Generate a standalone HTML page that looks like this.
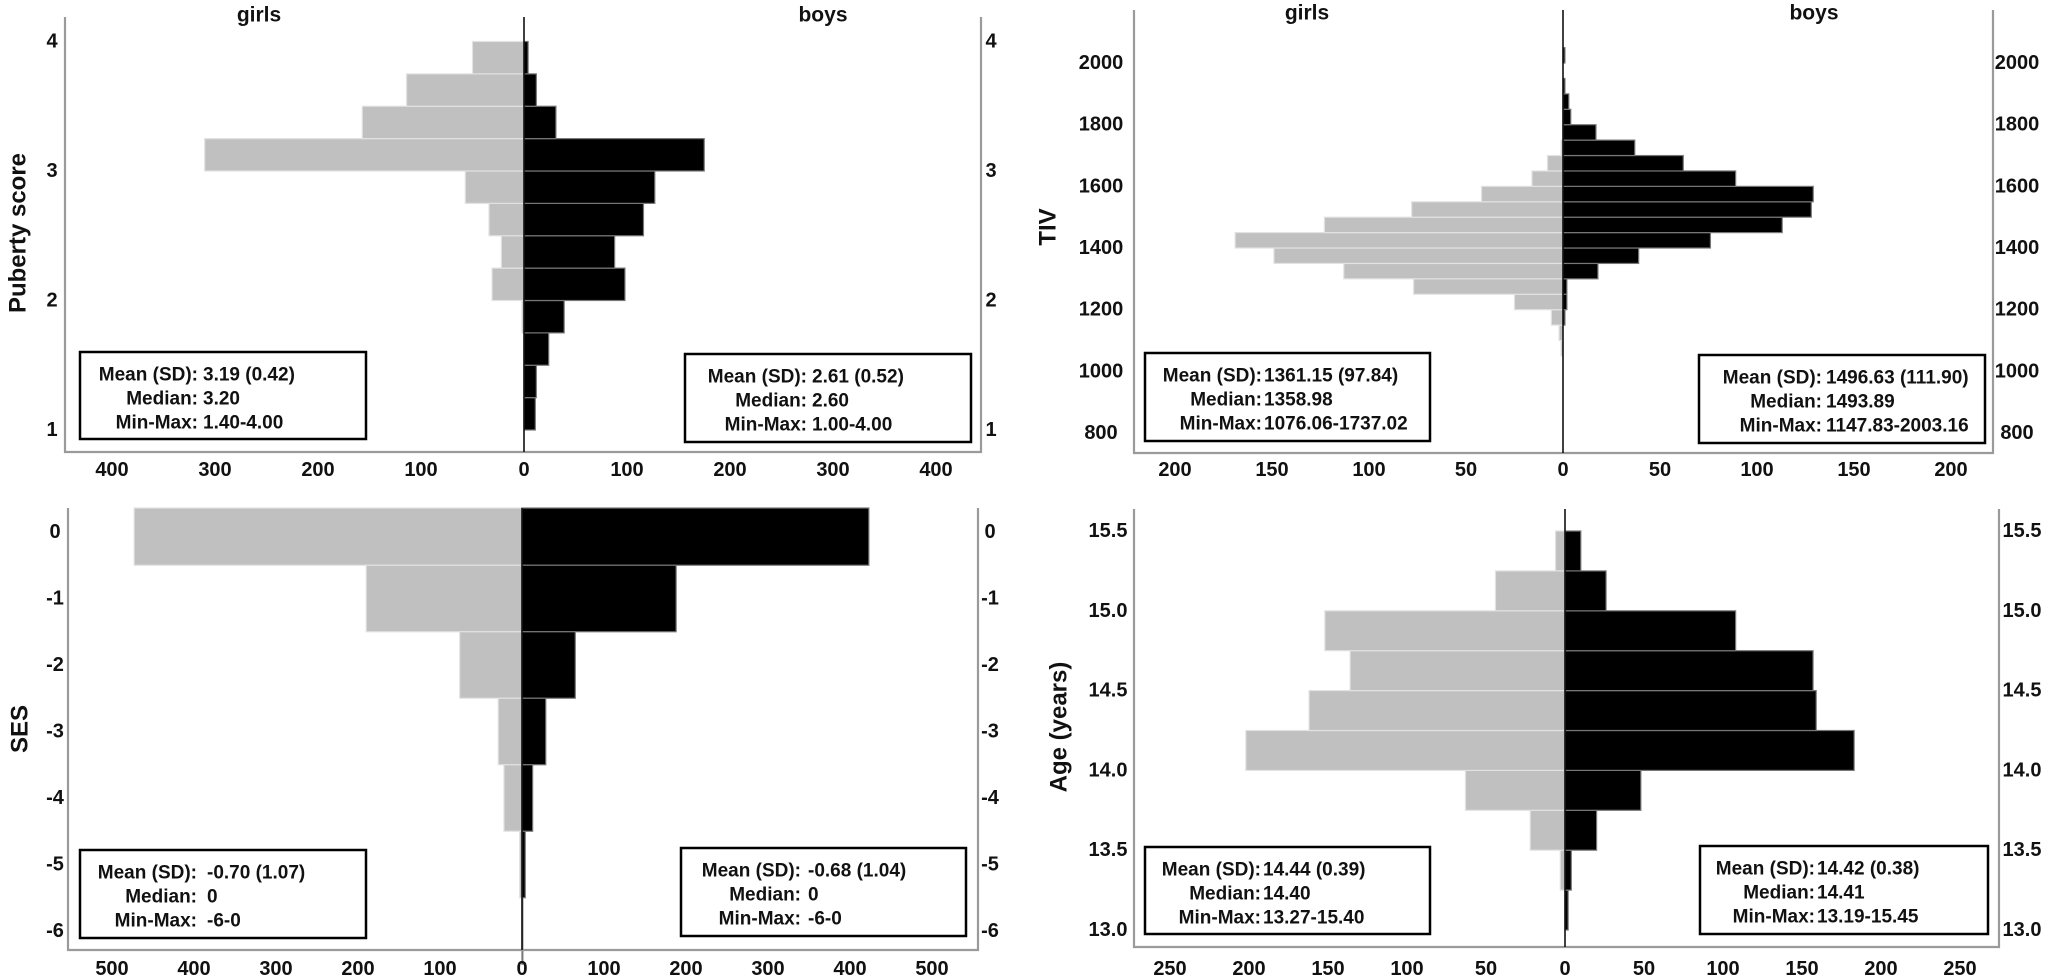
<!DOCTYPE html>
<html><head><meta charset="utf-8"><style>
html,body{margin:0;padding:0;background:#fff;}
svg{display:block;font-family:"Liberation Sans",Arial,sans-serif;font-weight:bold;}
</style></head><body>
<svg id="fig" width="2050" height="979" viewBox="0 0 2050 979" xmlns="http://www.w3.org/2000/svg"></svg>
<script>
// ---- Panel 1: Puberty score (bins of 0.25 from 1.0) ----
const pubBins = [1.0,1.25,1.5,1.75,2.0,2.25,2.5,2.75,3.0,3.25,3.5,3.75];
const pubGirls = [0,0,0,2,31,22,34,57,310,157,114,50];
const pubBoys = [11,12,24,39,98,88,116,127,175,31,12,4];
const pubYTicks = [1,2,3,4];
const pubXTicks = [400,300,200,100,0,100,200,300,400];
// ---- Panel 2: TIV (bins of 50) ----
const tivBins = [1050,1100,1150,1200,1250,1300,1350,1400,1450,1500,1550,1600,1650,1700,1750,1800,1850,1900,1950,2000];
const tivGirls = [1,2,6,25,77,113,149,169,123,78,42,16,8,1,0,0,0,0,0,0];
const tivBoys = [0,0,1,2,2,18,39,76,113,128,129,89,62,37,17,4,3,1,0,1];
const tivYTicks = [800,1000,1200,1400,1600,1800,2000];
const tivXTicks = [200,150,100,50,0,50,100,150,200];
// ---- Panel 3: SES (integer categories) ----
const sesCats = [0,-1,-2,-3,-4,-5,-6];
const sesGirls = [473,190,76,29,22,3,0];
const sesBoys = [423,188,65,29,13,4,1];
const sesYTicks = [0,-1,-2,-3,-4,-5,-6];
const sesXTicks = [500,400,300,200,100,0,100,200,300,400,500];
// ---- Panel 4: Age (bins of 0.25) ----
const ageBins = [13.0,13.25,13.5,13.75,14.0,14.25,14.5,14.75,15.0,15.25];
const ageGirls = [0,3,22,63,202,162,136,152,44,6];
const ageBoys = [2,4,20,48,183,159,157,108,26,10];
const ageYTicks = [13.0,13.5,14.0,14.5,15.0,15.5];
const ageXTicks = [250,200,150,100,50,0,50,100,150,200,250];

const NS = "http://www.w3.org/2000/svg";
const svg = document.getElementById('fig');
function mk(tag, attrs, parent){
  const e = document.createElementNS(NS, tag);
  for (const k in attrs) e.setAttribute(k, attrs[k]);
  (parent||svg).appendChild(e);
  return e;
}
function txt(s, x, y, size, anchor, parent){
  const t = mk('text', {x:x, y:y, 'font-size':size, 'text-anchor':anchor||'middle', 'dominant-baseline':'central', fill:'#111'}, parent);
  t.textContent = s;
  return t;
}

function panel(cfg){
  const g = mk('g', {});
  
  
  const xs = v => cfg.cx + v * cfg.xs;      // boys direction
  const xg = v => cfg.cx - v * cfg.xs;      // girls direction
  // bars
  for (let i = 0; i < cfg.bins.length; i++){
    let y0 = cfg.y(cfg.bins[i] + cfg.bw), y1 = cfg.y(cfg.bins[i]);
    if (cfg.centered){ y0 = cfg.y(cfg.bins[i] + cfg.bw/2); y1 = cfg.y(cfg.bins[i] - cfg.bw/2); }
    let top = Math.max(Math.min(y0,y1), cfg.top), bot = Math.max(y0,y1);
    const h = bot - top;
    if (cfg.girls[i] > 0){
      const r = mk('rect', {x:xg(cfg.girls[i]), y:top, width:cfg.girls[i]*cfg.xs, height:h, fill:'#c0c0c0', stroke:'#e2e2e2', 'stroke-width':1.2}, g);
      
      
    }
    if (cfg.boys[i] > 0){
      const r = mk('rect', {x:cfg.cx, y:top, width:cfg.boys[i]*cfg.xs, height:h, fill:'#000', stroke:'#777', 'stroke-width':1.2}, g);
      
      
    }
  }
  // frame
  const fr = mk('path', {d:`M${cfg.left} ${cfg.top} V${cfg.bottom} H${cfg.right} V${cfg.top}`, fill:'none', stroke:'#9a9a9a', 'stroke-width':2.2}, g);
  
  
  const cl = mk('line', {x1:cfg.cx, x2:cfg.cx, y1:cfg.top, y2:cfg.bottom, stroke:'#111', 'stroke-width':1.6}, g);
  
  
  // y ticks
  for (const v of cfg.yticks){
    const s = cfg.fmt(v);
    const a = txt(s, cfg.ylx, cfg.y(v), 20, 'middle', g);
    
    
    const b = txt(s, cfg.yrx, cfg.y(v), 20, 'middle', g);
    
    
  }
  // x ticks
  const n = cfg.xticks.length, mid = (n-1)/2;
  cfg.xticks.forEach((v,i) => {
    const x = i < mid ? xg(v) : xs(v);
    const t = txt(String(v), x, cfg.xly, 20, 'middle', g);
    
    
  });
  // y title
  const tt = mk('text', {x:0, y:0, 'font-size':24, 'text-anchor':'middle', 'dominant-baseline':'central', fill:'#111', transform:`translate(${cfg.tx},${cfg.ty}) rotate(-90)`}, g);
  tt.textContent = cfg.title;
  
  
  // headers
  if (cfg.heads){
    const h1 = txt('girls', cfg.heads[0], cfg.heads[2], 21, 'middle', g);
    
    
    const h2 = txt('boys', cfg.heads[1], cfg.heads[2], 21, 'middle', g);
    
    
  }
  // stat boxes
  cfg.boxes.forEach(bx => {
    const bg = mk('g', {}, g);
    
    
    mk('rect', {x:bx.x, y:bx.y, width:bx.w, height:bx.h, fill:'#fff', stroke:'#000', 'stroke-width':2.5}, bg);
    const labels = ['Mean (SD):','Median:','Min-Max:'];
    for (let k = 0; k < 3; k++){
      txt(labels[k], bx.x + bx.lx, bx.y + 23 + k*24, 19, 'end', bg);
      txt(bx.vals[k], bx.x + bx.vx, bx.y + 23 + k*24, 19, 'start', bg);
    }
  });
}

panel({name:'puberty-panel', left:65, right:981, top:17, bottom:452, cx:524, xs:1.03,
  y: v => 430 - (v-1)*129.5, bins:pubBins, bw:0.25, girls:pubGirls, boys:pubBoys,
  yticks:pubYTicks, fmt: v => String(v), ylx:52, yrx:991, xticks:pubXTicks, xly:470,
  title:'Puberty score', tx:18, ty:233, heads:[259,823,15],
  boxes:[{name:'girls-stats-box', x:80, y:352, w:286, h:87, lx:118, vx:123, vals:['3.19 (0.42)','3.20','1.40-4.00']},
         {name:'boys-stats-box', x:685, y:354, w:286, h:88, lx:122, vx:127, vals:['2.61 (0.52)','2.60','1.00-4.00']}]});

panel({name:'tiv-panel', left:1134, right:1993, top:10, bottom:453, cx:1563, xs:1.94,
  y: v => 433 - (v-800)*0.3083, bins:tivBins, bw:50, girls:tivGirls, boys:tivBoys,
  yticks:tivYTicks, fmt: v => String(v), ylx:1101, yrx:2017, xticks:tivXTicks, xly:470,
  title:'TIV', tx:1048, ty:227, heads:[1307,1814,13],
  boxes:[{name:'girls-stats-box', x:1145, y:353, w:285, h:88, lx:117, vx:119, vals:['1361.15 (97.84)','1358.98','1076.06-1737.02']},
         {name:'boys-stats-box', x:1699, y:355, w:286, h:88, lx:123, vx:127, vals:['1496.63 (111.90)','1493.89','1147.83-2003.16']}]});

panel({name:'ses-panel', left:68, right:978, top:508, bottom:950, cx:522, xs:0.82,
  y: v => 532 - v*66.5, centered:true, bins:sesCats, bw:1, girls:sesGirls, boys:sesBoys,
  yticks:sesYTicks, fmt: v => String(v), ylx:55, yrx:990, xticks:sesXTicks, xly:969,
  title:'SES', tx:20, ty:729, heads:null,
  boxes:[{name:'girls-stats-box', x:80, y:850, w:286, h:88, lx:117, vx:127, vals:['-0.70 (1.07)','0','-6-0']},
         {name:'boys-stats-box', x:681, y:848, w:285, h:88, lx:120, vx:127, vals:['-0.68 (1.04)','0','-6-0']}]});

panel({name:'age-panel', left:1134, right:1999, top:509, bottom:947, cx:1565, xs:1.58,
  y: v => 531 + (15.5 - v)*159.6, bins:ageBins, bw:0.25, girls:ageGirls, boys:ageBoys,
  yticks:ageYTicks, fmt: v => v.toFixed(1), ylx:1108, yrx:2022, xticks:ageXTicks, xly:969,
  title:'Age (years)', tx:1059, ty:727, heads:null,
  boxes:[{name:'girls-stats-box', x:1145, y:847, w:285, h:87, lx:116, vx:118, vals:['14.44 (0.39)','14.40','13.27-15.40']},
         {name:'boys-stats-box', x:1700, y:846, w:288, h:88, lx:115, vx:117, vals:['14.42 (0.38)','14.41','13.19-15.45']}]});
</script>
</body></html>
